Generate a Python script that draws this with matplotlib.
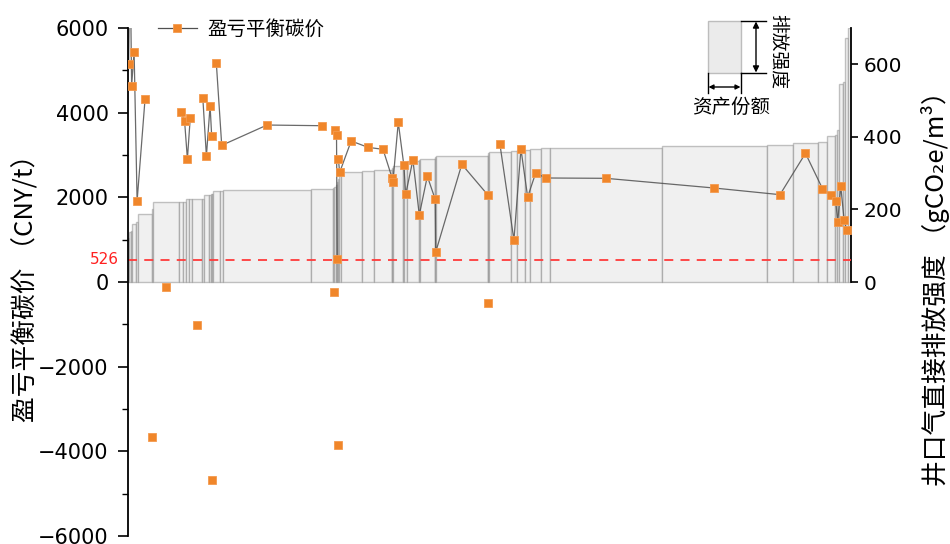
import numpy as np
import matplotlib
matplotlib.use('Agg')
import matplotlib.pyplot as plt
from matplotlib.patches import Rectangle, FancyArrowPatch
from matplotlib.lines import Line2D
from matplotlib.ticker import MultipleLocator
import matplotlib.transforms as mtransforms

plt.rcParams['font.family'] = ['Noto Sans CJK SC', 'DejaVu Sans']
plt.rcParams['axes.unicode_minus'] = True

# ---- data ----
asset_share = [0.17, 0.22, 0.22, 0.47, 0.36, 1.83, 0.17, 3.67, 0.51, 0.42,
               0.36, 0.42, 1.37, 0.33, 0.66, 0.36, 0.08, 0.08, 1.05, 0.44,
               12.10, 3.04, 0.22, 0.25, 0.11, 0.08, 0.08, 0.08, 0.28, 2.91,
               1.74, 2.42, 0.10, 0.11, 1.38, 0.17, 0.33, 1.67, 0.10, 2.12,
               0.07, 0.07, 7.14, 0.08, 0.08, 3.07, 0.83, 1.11, 0.75, 1.47,
               1.30, 15.40, 14.53, 3.68, 3.38, 1.33, 1.00, 0.33, 0.22, 0.62,
               0.32, 0.42, 0.30]
emission_intensity = [120, 139, 140, 161, 165, 188, 200, 220, 220, 221,
                      228, 229, 230, 230, 240, 241, 242, 242, 251, 252,
                      254, 256, 258, 262, 266, 270, 275, 285, 295, 304,
                      306, 310, 312, 315, 320, 321, 325, 333, 335, 339,
                      342, 345, 346, 350, 355, 357, 362, 364, 365, 366,
                      368, 370, 375, 378, 383, 387, 402, 405, 420, 547,
                      550, 672, 700]
breakeven_price = [5142, 8000, 4630, 5440, 1913, 4315, -3660, -110, 4016, 3803,
                   2906, 3866, -1016, 4339, 2976, 4165, 3449, -4677, 5165, 3228,
                   3708, 3692, -236, 3590, 3465, 536, -3850, 2906, 2591, 3331,
                   3181, 3134, 2457, 2355, 3772, 2756, 2071, 2882, 1583, 2497,
                   1953, 709, 2780, 2055, -496, 3267, 992, 3142, 2008, 2575,
                   2457, 2449, 2220, 2063, 3040, 2204, 2048, 1921, 1410, 2268,
                   1457, 1228, np.nan]
reference_price = 526
left_ticks = [-6000, -4000, -2000, 0, 2000, 4000, 6000]
right_ticks = [0, 200, 400, 600]

W, H = 950, 544
def fx(px):
    return px / W
def fy(py):
    return 1 - py / H

fig = plt.figure(figsize=(9.5, 5.44), dpi=100)
ax = fig.add_axes([fx(128), fy(536), (851 - 128) / W, (536 - 28) / H])
ax2 = ax.twinx()

share = np.array(asset_share, float)
lefts = np.concatenate([[0], np.cumsum(share)[:-1]])
centers = lefts + share / 2
total = share.sum()

# bars (right axis)
ax2.bar(lefts, emission_intensity, width=share, align='edge',
        facecolor='#f0f0f0', edgecolor=(0.45, 0.45, 0.45, 0.42), linewidth=1.0)
ax2.set_ylim(-700, 700)
ax2.set_yticks(right_ticks)
for s in ['left', 'top', 'bottom']:
    ax2.spines[s].set_visible(False)
ax2.spines['right'].set_bounds(0, 700)
ax2.spines['right'].set_linewidth(1.3)
ax2.tick_params(axis='y', length=5, width=1.2, pad=4, labelsize=14.5, direction='out')
for lab in ax2.get_yticklabels():
    lab.set_fontfamily('DejaVu Sans')
ax2.set_ylabel('井口气直接排放强度 （gCO₂e/m³）', fontsize=18.5)
ax2.yaxis.set_label_coords(1.097, 0.5)

# prices (left axis)
ax.set_zorder(ax2.get_zorder() + 1)
ax.patch.set_visible(False)
price = np.array(breakeven_price, float)
line_vals = np.where(price >= 0, price, np.nan)
ax.plot(centers, line_vals, color='#505050', lw=0.9, alpha=0.85, zorder=2)
ax.plot(centers, price, ls='none', marker='s', ms=5.8, mfc='#F0862A',
        mec='#F49A4E', mew=0.6, zorder=3)
ax.axhline(reference_price, color='#FF3B3B', ls=(0, (5, 4)), lw=1.3, zorder=1)
trans = mtransforms.blended_transform_factory(ax.transAxes, ax.transData)
ax.text(-0.012, reference_price, str(reference_price), transform=trans,
        color='#FF2020', fontsize=11, ha='right', va='center',
        fontfamily='DejaVu Sans')

ax.set_xlim(0, total * 723 / 722.5)
ax.set_ylim(-6000, 6000)
ax.set_yticks(left_ticks)
ax.yaxis.set_minor_locator(MultipleLocator(1000))
ax.set_xticks([])
for s in ['right', 'top', 'bottom']:
    ax.spines[s].set_visible(False)
ax.spines['left'].set_linewidth(1.3)
ax.tick_params(axis='y', which='major', length=7, width=1.2, pad=7, labelsize=15, direction='out')
ax.tick_params(axis='y', which='minor', length=4, width=1.0, direction='out')
for lab in ax.get_yticklabels():
    lab.set_fontfamily('DejaVu Sans')
ax.set_ylabel('盈亏平衡碳价 （CNY/t）', fontsize=18.5)
ax.yaxis.set_label_coords(-0.122, 0.5)

# legend
handle = Line2D([], [], color='#505050', lw=0.9, marker='s', ms=5.8,
                mfc='#F0862A', mec='#F49A4E', mew=0.6)
fig.legend([handle], ['盈亏平衡碳价'], loc='center left',
           bbox_to_anchor=(fx(158), fy(29)), bbox_transform=fig.transFigure,
           frameon=False, fontsize=14, handlelength=2.0, handletextpad=0.55,
           borderaxespad=0, borderpad=0)

# inset key (top right)
fig.add_artist(Rectangle((fx(708), fy(73)), fx(741) - fx(708), fy(21) - fy(73),
                         transform=fig.transFigure, facecolor='#ebebeb',
                         edgecolor='#bdbdbd', lw=1))
for (x0, y0, x1, y1) in [(741, 21, 766, 21), (741, 73, 766, 73),
                         (708, 73, 708, 93), (741, 73, 741, 93)]:
    fig.add_artist(Line2D([fx(x0), fx(x1)], [fy(y0), fy(y1)],
                          transform=fig.transFigure, color='black', lw=1))
fig.add_artist(FancyArrowPatch((fx(756), fy(21.5)), (fx(756), fy(72.5)),
                               transform=fig.transFigure, arrowstyle='<|-|>',
                               mutation_scale=9, color='black', lw=1,
                               shrinkA=0, shrinkB=0))
fig.add_artist(FancyArrowPatch((fx(708.5), fy(87)), (fx(740.5), fy(87)),
                               transform=fig.transFigure, arrowstyle='<|-|>',
                               mutation_scale=7, color='black', lw=1,
                               shrinkA=0, shrinkB=0))
fig.text(fx(778), fy(52), '排放强度', rotation=270, ha='center', va='center',
         fontsize=13.5)
fig.text(fx(731), fy(107), '资产份额', ha='center', va='center', fontsize=14)

fig.savefig('out.png', dpi=100)
